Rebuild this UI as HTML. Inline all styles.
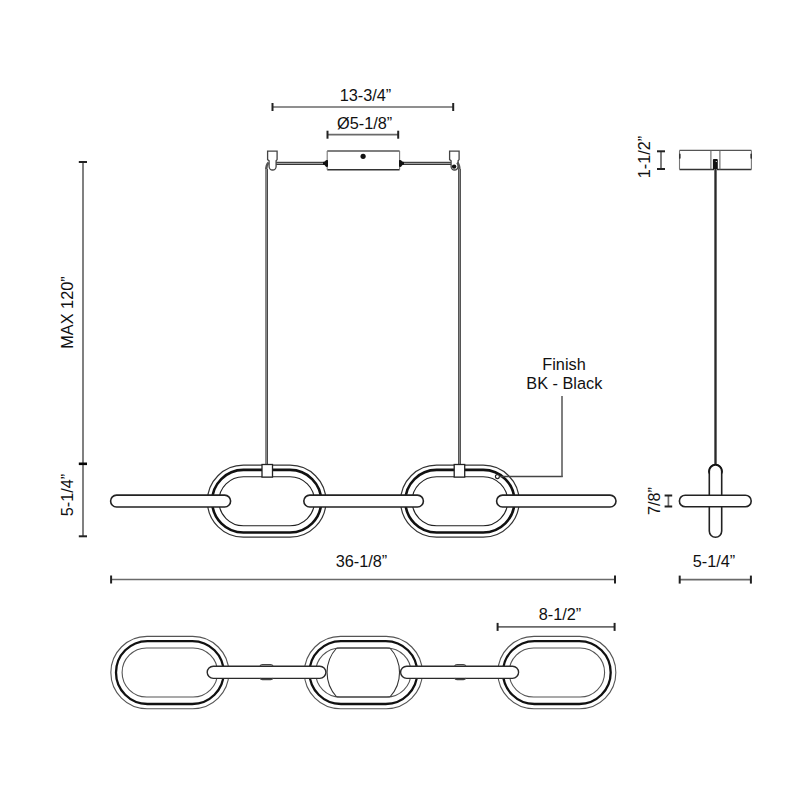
<!DOCTYPE html>
<html><head><meta charset="utf-8"><style>
html,body{margin:0;padding:0;background:#fff;width:800px;height:800px;overflow:hidden}
svg{display:block}
text{font-family:"Liberation Sans",sans-serif;font-size:16.3px;fill:#111}
.dl{stroke:#6a6a6a;stroke-width:1.7;fill:none}
.dt{stroke:#222;stroke-width:2;fill:none}
.lo{stroke:#333;stroke-width:1.2;fill:none}
.lt{stroke:#111;stroke-width:2.6;fill:none}
.li{stroke:#222;stroke-width:1.1;fill:#fff}
.lob{stroke:#555;stroke-width:1.1;fill:none}
.ltb{stroke:#111;stroke-width:2.3;fill:none}
.lib{stroke:#555;stroke-width:1.1;fill:#fff}
.bar{stroke:#222;stroke-width:1.6;fill:#fff}
.bar2{stroke:#2a2a2a;stroke-width:1.4;fill:#fff}
.box{stroke:#222;stroke-width:1.3;fill:#fff}
.bump{stroke:#444;stroke-width:1.1;fill:none}
.can{stroke:#333;stroke-width:1.6;fill:#fff}
.rod{stroke:#222;stroke-width:1.0}
.clip{stroke:#444;stroke-width:1.3;fill:#fff}
.wire{stroke:#555;stroke-width:2.6;fill:none}
.wire2{stroke:#222;stroke-width:2.2;fill:none}
.lead{stroke:#444;stroke-width:1.5;fill:none}
.thin{stroke:#444;stroke-width:1.1}
</style></head><body>
<svg width="800" height="800" viewBox="0 0 800 800">
<line x1="272.5" y1="107" x2="453.2" y2="107" class="dl"/><line x1="272.5" y1="103" x2="272.5" y2="111" class="dt"/><line x1="453.2" y1="103" x2="453.2" y2="111" class="dt"/>
<text x="365.5" y="100.6" text-anchor="middle">13-3/4&#8221;</text>
<line x1="327.5" y1="134.7" x2="398.2" y2="134.7" class="dl"/><line x1="327.5" y1="130.7" x2="327.5" y2="138.7" class="dt"/><line x1="398.2" y1="130.7" x2="398.2" y2="138.7" class="dt"/>
<text x="337.0" y="129.4" text-anchor="start">&#216;5-1/8&#8221;</text>
<rect x="327.2" y="151" width="72.4" height="18.7" fill="#fff"/>
<line x1="327.2" y1="151" x2="399.6" y2="151" stroke="#555" stroke-width="1.3"/>
<line x1="327.2" y1="169.7" x2="399.6" y2="169.7" stroke="#333" stroke-width="1.5"/>
<line x1="327.2" y1="151" x2="327.2" y2="169.7" stroke="#777" stroke-width="1.1"/>
<line x1="399.6" y1="151" x2="399.6" y2="169.7" stroke="#777" stroke-width="1.1"/>
<circle cx="363.1" cy="156.3" r="2.6" fill="#111"/>
<rect x="276" y="162.3" width="51" height="2.1" fill="#b0b0b0"/><rect x="400" y="162.3" width="51" height="2.1" fill="#b0b0b0"/>
<line x1="276" y1="162.3" x2="327" y2="162.3" class="rod"/><line x1="276" y1="164.4" x2="327" y2="164.4" class="rod"/>
<line x1="400" y1="162.3" x2="451" y2="162.3" class="rod"/><line x1="400" y1="164.4" x2="451" y2="164.4" class="rod"/>
<path d="M323,162.1 Q325.2,161.9 325.9,160.2 Q327,159.8 328,160.2 V166.6 Q327,167.2 325.9,166.8 Q325.2,164.8 323,164.6 Z" fill="#111"/>
<path d="M404,162.1 Q401.8,161.9 401.1,160.2 Q400,159.8 399,160.2 V166.6 Q400,167.2 401.1,166.8 Q401.8,164.8 404,164.6 Z" fill="#111"/>
<path d="M267.6,151.2 H277.1 V159.6 L276.1,160.8 V166.5 A3.5,3.5 0 0 1 269.1,166.5 V160.8 L267.6,159.6 Z" class="clip"/>
<path d="M449.6,151.2 H459.1 V159.6 L458.1,160.8 V166.5 A3.5,3.5 0 0 1 451.1,166.5 V160.8 L449.6,159.6 Z" class="clip"/>
<circle cx="454.1" cy="166.6" r="2.2" fill="#111"/>
<path d="M266.2,170 Q266.2,165 268.6,162.5" stroke="#555" stroke-width="2.4" fill="none"/>
<path d="M459.5,170 Q459.5,165 457.2,162.5" stroke="#555" stroke-width="2.4" fill="none"/>
<g shape-rendering="crispEdges"><rect x="265" y="169" width="2" height="295" fill="#868686"/><rect x="267" y="169" width="1" height="295" fill="#484848"/>
<rect x="458" y="169" width="3" height="295" fill="#555"/><rect x="459" y="169" width="1" height="295" fill="#888"/></g>
<path d="M243.40,465.20 H290.00 A36.00,36.00 0 0 1 290.00,537.20 H243.40 A36.00,36.00 0 0 1 243.40,465.20 Z" class="lo"/><path d="M243.40,469.90 H290.00 A31.30,31.30 0 0 1 290.00,532.50 H243.40 A31.30,31.30 0 0 1 243.40,469.90 Z" class="lt"/><path d="M243.40,476.70 H290.00 A24.50,24.50 0 0 1 290.00,525.70 H243.40 A24.50,24.50 0 0 1 243.40,476.70 Z" class="li"/>
<path d="M436.60,465.20 H483.20 A36.00,36.00 0 0 1 483.20,537.20 H436.60 A36.00,36.00 0 0 1 436.60,465.20 Z" class="lo"/><path d="M436.60,469.90 H483.20 A31.30,31.30 0 0 1 483.20,532.50 H436.60 A31.30,31.30 0 0 1 436.60,469.90 Z" class="lt"/><path d="M436.60,476.70 H483.20 A24.50,24.50 0 0 1 483.20,525.70 H436.60 A24.50,24.50 0 0 1 436.60,476.70 Z" class="li"/>
<rect x="110.60" y="495.10" width="120.00" height="11.90" rx="5.95" ry="5.95" class="bar"/>
<rect x="303.80" y="495.10" width="119.60" height="11.90" rx="5.95" ry="5.95" class="bar"/>
<rect x="496.60" y="495.10" width="119.40" height="11.90" rx="5.95" ry="5.95" class="bar"/>
<rect x="262" y="464.5" width="10.5" height="12.6" class="box"/>
<rect x="454.2" y="464.5" width="10.5" height="12.6" class="box"/>
<circle cx="497.4" cy="476.6" r="2" class="li"/>
<line x1="499.4" y1="476.5" x2="562.7" y2="476.5" class="lead"/><line x1="562" y1="477" x2="562" y2="396" stroke="#555" stroke-width="1.5"/>
<text x="564" y="370" text-anchor="middle">Finish</text>
<text x="564.3" y="388.8" text-anchor="middle">BK - Black</text>
<line x1="83" y1="162" x2="83" y2="536.3" class="dl"/>
<line x1="78.8" y1="162" x2="87" y2="162" class="dt"/>
<line x1="78.8" y1="463.8" x2="87" y2="463.8" stroke="#050505" stroke-width="2.6"/>
<line x1="78.8" y1="536.3" x2="87" y2="536.3" class="dt"/>
<text x="0" y="0" text-anchor="middle" transform="translate(72.8,312.5) rotate(-90)" dominant-baseline="auto">MAX 120&#8221;</text>
<text x="0" y="0" text-anchor="middle" transform="translate(72.8,495) rotate(-90)" dominant-baseline="auto">5-1/4&#8221;</text>
<line x1="111.1" y1="579.5" x2="615" y2="579.5" class="dl"/><line x1="111.1" y1="575.5" x2="111.1" y2="583.5" class="dt"/><line x1="615" y1="575.5" x2="615" y2="583.5" class="dt"/>
<text x="361.5" y="566.8" text-anchor="middle">36-1/8&#8221;</text>
<line x1="679.5" y1="150.4" x2="751.4" y2="150.4" stroke="#555" stroke-width="1.3"/>
<line x1="679.5" y1="169.5" x2="751.4" y2="169.5" stroke="#333" stroke-width="1.5"/>
<line x1="679.5" y1="150.4" x2="679.5" y2="169.5" stroke="#777" stroke-width="1.1"/>
<line x1="751.4" y1="150.4" x2="751.4" y2="169.5" stroke="#777" stroke-width="1.1"/>
<rect x="679" y="153.6" width="1.6" height="5.3" rx="0.8" fill="#333"/><rect x="750.4" y="153.6" width="1.6" height="5.3" rx="0.8" fill="#333"/>
<line x1="710.9" y1="150.4" x2="710.9" y2="169.5" stroke="#666" stroke-width="1.1"/><line x1="719.9" y1="150.4" x2="719.9" y2="169.5" stroke="#666" stroke-width="1.1"/>
<rect x="712.9" y="159.1" width="4.9" height="10.4" rx="1" fill="#111"/><circle cx="716.3" cy="161.5" r="0.6" fill="#fff"/>
<g shape-rendering="crispEdges"><rect x="714" y="169" width="3" height="297" fill="#6e6e6e"/><rect x="715" y="169" width="1" height="297" fill="#2a2a2a"/></g>
<rect x="709.30" y="465.00" width="12.40" height="72.30" rx="6.20" ry="6.20" class="bar"/>
<path d="M708.1,471.2 A7.4,7.4 0 0 1 722.9,471.2 Q722.9,473 721.6,474.8 V471.2 A6.1,6.1 0 0 0 709.4,471.2 V474.8 Q708.1,473 708.1,471.2 Z" fill="#111"/>
<rect x="679.40" y="495.20" width="71.80" height="11.60" rx="5.80" ry="5.80" class="bar"/>
<line x1="708.9" y1="495.2" x2="708.9" y2="506.8" stroke="#fff" stroke-width="0"/>
<line x1="661" y1="151.3" x2="661" y2="169" class="dl"/><line x1="657" y1="151.3" x2="665" y2="151.3" class="dt"/><line x1="657" y1="169" x2="665" y2="169" class="dt"/>
<text x="0" y="0" text-anchor="middle" transform="translate(649.7,157) rotate(-90)" dominant-baseline="auto">1-1/2&#8221;</text>
<line x1="668.4" y1="495.5" x2="668.4" y2="506.5" class="dl"/><line x1="664.6" y1="495.5" x2="672.1999999999999" y2="495.5" class="dt"/><line x1="664.6" y1="506.5" x2="672.1999999999999" y2="506.5" class="dt"/>
<text x="0" y="0" text-anchor="middle" transform="translate(659.5,501) rotate(-90)" dominant-baseline="auto">7/8&#8221;</text>
<line x1="679.7" y1="579.6" x2="750.9" y2="579.6" class="dl"/><line x1="679.7" y1="575.6" x2="679.7" y2="583.6" class="dt"/><line x1="750.9" y1="575.6" x2="750.9" y2="583.6" class="dt"/>
<text x="714" y="566.5" text-anchor="middle">5-1/4&#8221;</text>
<path d="M147.00,636.40 H192.70 A36.15,36.15 0 0 1 192.70,708.70 H147.00 A36.15,36.15 0 0 1 147.00,636.40 Z" class="lob"/><path d="M147.45,641.10 H192.25 A31.45,31.45 0 0 1 192.25,704.00 H147.45 A31.45,31.45 0 0 1 147.45,641.10 Z" class="ltb"/><path d="M146.60,648.05 H193.10 A24.50,24.50 0 0 1 193.10,697.05 H146.60 A24.50,24.50 0 0 1 146.60,648.05 Z" class="lib"/>
<path d="M340.50,636.40 H386.20 A36.15,36.15 0 0 1 386.20,708.70 H340.50 A36.15,36.15 0 0 1 340.50,636.40 Z" class="lob"/><path d="M340.95,641.10 H385.75 A31.45,31.45 0 0 1 385.75,704.00 H340.95 A31.45,31.45 0 0 1 340.95,641.10 Z" class="ltb"/><path d="M340.10,648.05 H386.60 A24.50,24.50 0 0 1 386.60,697.05 H340.10 A24.50,24.50 0 0 1 340.10,648.05 Z" class="lib"/>
<path d="M534.00,636.40 H579.70 A36.15,36.15 0 0 1 579.70,708.70 H534.00 A36.15,36.15 0 0 1 534.00,636.40 Z" class="lob"/><path d="M534.45,641.10 H579.25 A31.45,31.45 0 0 1 579.25,704.00 H534.45 A31.45,31.45 0 0 1 534.45,641.10 Z" class="ltb"/><path d="M533.60,648.05 H580.10 A24.50,24.50 0 0 1 580.10,697.05 H533.60 A24.50,24.50 0 0 1 533.60,648.05 Z" class="lib"/>
<path d="M336.7,648 A36,36 0 0 0 336.7,697 M389.9,648 A36,36 0 0 1 389.9,697" class="lib" style="stroke:#333"/><path d="M336.7,648 H389.9 M336.7,697 H389.9" stroke="#333" stroke-width="1.1" fill="none"/>
<rect x="207.20" y="666.20" width="118.70" height="12.20" rx="6.10" ry="6.10" class="bar2"/>
<rect x="400.60" y="666.20" width="118.00" height="12.20" rx="6.10" ry="6.10" class="bar2"/>
<path d="M260,666.2 Q260.5,664.6 262.5,664.6 H270.5 Q272.5,664.6 273,666.2" class="bump"/><path d="M260,678 Q260.5,679.6 262.5,679.6 H270.5 Q272.5,679.6 273,678" class="bump"/>
<path d="M454.6,666.2 Q455.1,664.6 457.1,664.6 H463.3 Q465.3,664.6 465.8,666.2" class="bump"/><path d="M454.6,678 Q455.1,679.6 457.1,679.6 H463.3 Q465.3,679.6 465.8,678" class="bump"/>
<line x1="497.6" y1="626.9" x2="614.6" y2="626.9" class="dl"/><line x1="497.6" y1="622.9" x2="497.6" y2="630.9" class="dt"/><line x1="614.6" y1="622.9" x2="614.6" y2="630.9" class="dt"/>
<text x="560" y="620.1" text-anchor="middle">8-1/2&#8221;</text>
</svg>
</body></html>
